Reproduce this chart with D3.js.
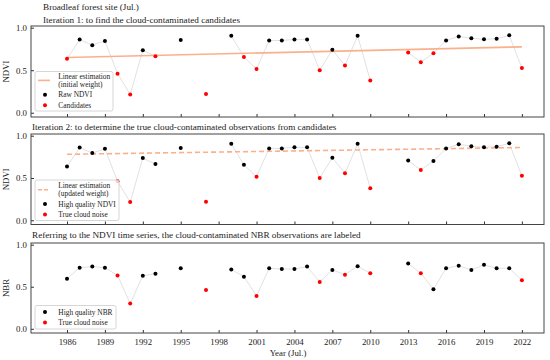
<!DOCTYPE html>
<html lang="en">
<head>
<meta charset="UTF-8">
<title>NDVI / NBR cloud noise</title>
<script src="https://d3js.org/d3.v7.min.js"></script>
<style>
  body { margin: 0; background: #fff; }
  svg text { font-family: "Liberation Serif", "Times New Roman", serif; fill: #222; }
</style>
</head>
<body>
<div id="chart"></div>
<script>
// observation years (Jul.), missing years break the line
const years = [1986, 1987, 1988, 1989, 1990, 1991, 1992, 1993, 1995, 1997, 1999, 2000, 2001, 2002, 2003, 2004,
  2005, 2006, 2007, 2008, 2009, 2010, 2013, 2014, 2015, 2016, 2017, 2018, 2019, 2020, 2021, 2022];
const ndvi = [0.635, 0.86, 0.795, 0.845, 0.46, 0.215, 0.735, 0.665, 0.855, 0.22, 0.905, 0.655, 0.515, 0.85, 0.85, 0.862,
  0.862, 0.50, 0.74, 0.555, 0.905, 0.38, 0.707, 0.595, 0.70, 0.85, 0.898, 0.876, 0.864, 0.87, 0.91, 0.525];
const nbr = [0.596, 0.726, 0.74, 0.726, 0.635, 0.30, 0.63, 0.655, 0.72, 0.46, 0.706, 0.62, 0.39, 0.72, 0.71, 0.71,
  0.74, 0.556, 0.70, 0.643, 0.745, 0.66, 0.776, 0.66, 0.47, 0.72, 0.75, 0.70, 0.76, 0.72, 0.72, 0.576];
const candidateYears = [1986, 1990, 1991, 1993, 1997, 2000, 2001, 2006, 2008, 2010, 2013, 2014, 2015, 2022];
const noiseYears = [1990, 1991, 1997, 2001, 2006, 2008, 2010, 2014, 2022];
// linear estimation end points (1986, 2022)
const trendYears = [1986, 2022];
const trendInitial = [0.65, 0.775];
const trendUpdated = [0.78, 0.86];
const xTicks = d3.range(1986, 2023, 3);
const yTicks = [0, 0.5, 1.0];

const W = 550, H = 360;
const left = 31, right = 544;

const svg = d3.select("#chart").append("svg")
  .attr("width", W).attr("height", H);

const x = d3.scaleLinear().domain([1983.15, 2023.75]).range([left, right]);

// split into runs of consecutive years
function segments(vals) {
  const segs = [];
  let cur = [];
  years.forEach((yr, i) => {
    if (cur.length && yr - cur[cur.length - 1][0] > 1) { segs.push(cur); cur = []; }
    cur.push([yr, vals[i]]);
  });
  segs.push(cur);
  return segs;
}

const panels = [
  {top: 26, bottom: 117, vals: ndvi, red: candidateYears, ylab: "NDVI",
   titles: ["Broadleaf forest site (Jul.)", "Iteration 1: to find the cloud-contaminated candidates"],
   titleX: 43, titleY: [9.5, 22.5],
   trend: trendInitial, dashed: false,
   legend: {x: 35, y: 71.5, w: 78, h: 39.5, first: 5,
     items: [{type: "line", label: ["Linear estimation", "(initial weight)"]},
             {type: "dot", color: "#000", label: ["Raw NDVI"]},
             {type: "dot", color: "#f00", label: ["Candidates"]}]}},
  {top: 134, bottom: 224.5, vals: ndvi, red: noiseYears, ylab: "NDVI",
   titles: ["Iteration 2: to determine the true cloud-contaminated observations from candidates"],
   titleX: 32, titleY: [130],
   trend: trendUpdated, dashed: true,
   legend: {x: 35, y: 180, w: 84, h: 40.5, first: 5.8,
     items: [{type: "line", label: ["Linear estimation", "(updated weight)"]},
             {type: "dot", color: "#000", label: ["High quality NDVI"]},
             {type: "dot", color: "#f00", label: ["True cloud noise"]}]}},
  {top: 243, bottom: 333, vals: nbr, red: noiseYears, ylab: "NBR",
   titles: ["Referring to the NDVI time series, the cloud-contaminated NBR observations are labeled"],
   titleX: 32, titleY: [238],
   trend: null,
   legend: {x: 35, y: 305.5, w: 81, h: 23.5, first: 6.5,
     items: [{type: "dot", color: "#000", label: ["High quality NBR"]},
             {type: "dot", color: "#f00", label: ["True cloud noise"]}]}}
];

const trendColor = "#fbb08c";

panels.forEach((p, pi) => {
  const y = d3.scaleLinear().domain([-0.05, 1.02]).range([p.bottom, p.top]);
  const g = svg.append("g");

  // titles
  p.titles.forEach((t, i) => {
    g.append("text").attr("x", p.titleX).attr("y", p.titleY[i])
      .attr("font-size", 9.2).text(t);
  });

  // axes (inward ticks)
  const xa = g.append("g").attr("transform", `translate(0,${p.bottom})`)
    .call(d3.axisBottom(x).tickValues(xTicks).tickSize(-3).tickPadding(6)
      .tickFormat(pi === 2 ? d3.format("d") : ""));
  xa.select(".domain").remove();
  xa.selectAll("line").attr("stroke", "#333");
  xa.selectAll("text").attr("font-size", 8.8).attr("fill", "#222");

  const ya = g.append("g").attr("transform", `translate(${left},0)`)
    .call(d3.axisLeft(y).tickValues(yTicks).tickSize(-3).tickPadding(4).tickFormat(d3.format(".1f")));
  ya.select(".domain").remove();
  ya.selectAll("line").attr("stroke", "#333");
  ya.selectAll("text").attr("font-size", 8.8).attr("fill", "#222");

  g.append("text")
    .attr("transform", `translate(9,${(p.top + p.bottom) / 2}) rotate(-90)`)
    .attr("text-anchor", "middle").attr("font-size", 8.8).text(p.ylab);

  // connecting line
  const line = d3.line().x(d => x(d[0])).y(d => y(d[1]));
  segments(p.vals).forEach(seg => {
    g.append("path").datum(seg).attr("d", line)
      .attr("fill", "none").attr("stroke", "#d9d9d9").attr("stroke-width", 0.8);
  });

  // trend line
  if (p.trend) {
    g.append("path").datum(trendYears.map((yr, i) => [yr, p.trend[i]]))
      .attr("d", line).attr("fill", "none").attr("stroke", trendColor)
      .attr("stroke-width", 1.6)
      .attr("stroke-dasharray", p.dashed ? "5,3" : null);
  }

  // points
  g.selectAll("circle.pt").data(years.map((yr, i) => [yr, p.vals[i]]))
    .join("circle").attr("class", "pt")
    .attr("cx", d => x(d[0])).attr("cy", d => y(d[1])).attr("r", 2)
    .attr("fill", d => p.red.includes(d[0]) ? "#f00" : "#000");

  // legend
  const L = p.legend;
  const lg = g.append("g").attr("transform", `translate(${L.x},${L.y})`);
  lg.append("rect").attr("width", L.w).attr("height", L.h).attr("rx", 2)
    .attr("fill", "#fff").attr("fill-opacity", 0.8)
    .attr("stroke", "#ccc").attr("stroke-width", 0.8);
  let cy = L.first;
  L.items.forEach(it => {
    const n = it.label.length;
    const mid = cy + (n - 1) * 7.8 / 2;
    if (it.type === "line") {
      lg.append("line").attr("x1", 3).attr("x2", 15).attr("y1", mid).attr("y2", mid)
        .attr("stroke", trendColor).attr("stroke-width", 1.6)
        .attr("stroke-dasharray", p.dashed ? "4,2" : null);
    } else {
      lg.append("circle").attr("cx", 10).attr("cy", mid).attr("r", 2).attr("fill", it.color);
    }
    it.label.forEach((t, k) => {
      lg.append("text").attr("x", 23.3)
        .attr("y", cy + k * 7.8 + 2.5)
        .attr("font-size", 7.4).text(t);
    });
    cy += (n - 1) * 7.8 + 10.5;
  });

  // frame
  g.append("rect").attr("x", left).attr("y", p.top)
    .attr("width", right - left).attr("height", p.bottom - p.top)
    .attr("fill", "none").attr("stroke", "#444").attr("stroke-width", 1);
});

svg.append("text").attr("x", 288).attr("y", 355.5)
  .attr("text-anchor", "middle").attr("font-size", 8.8).text("Year (Jul.)");
</script>
</body>
</html>
